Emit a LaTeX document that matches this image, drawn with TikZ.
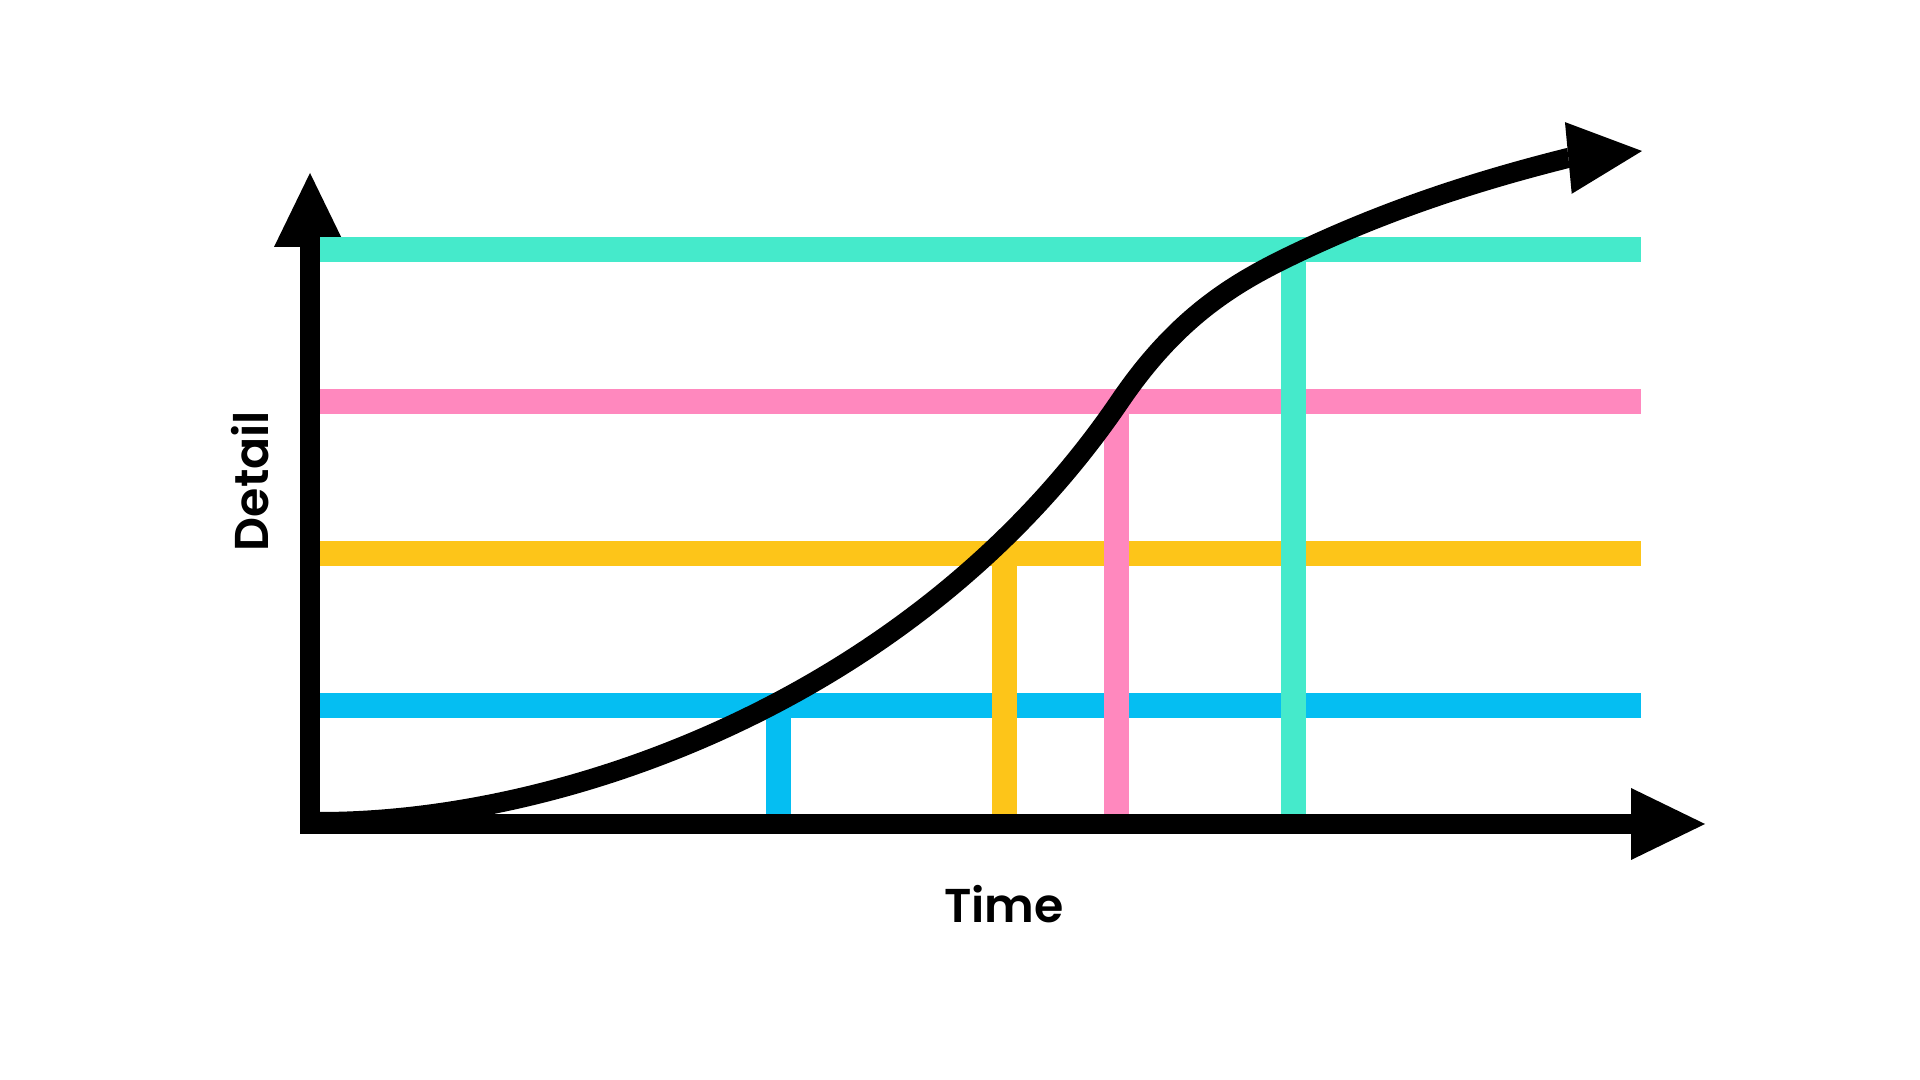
\documentclass[tikz,border=0pt]{standalone}
\usepackage{fontspec}
\setmainfont{Poppins}[UprightFont=* SemiBold]
\usetikzlibrary{arrows.meta}
\definecolor{levteal}{HTML}{45EACB}
\definecolor{levpink}{HTML}{FF88BE}
\definecolor{levyellow}{HTML}{FDC519}
\definecolor{levblue}{HTML}{05BEF2}

\begin{document}
\begin{tikzpicture}[>={Triangle[length=7.4mm,width=7.2mm,line width=0pt]},
 axis/.style={line width=2mm,black},
 bar/.style={line width=2.5mm},
 curve/.style={line width=2mm,black,line join=round},
 lab/.style={font=\fontsize{13.5}{16}\selectfont}]
\useasboundingbox (0,0) rectangle (19.2,10.8);
\coordinate (ytip) at (3.10,9.07);
\coordinate (xtip) at (17.05,2.56);
\draw[axis,<->] (ytip) |- (xtip);
% levels
\draw[bar,levteal] (3.20,8.305) -- (16.41,8.305);
\draw[bar,levpink] (3.20,6.785) -- (16.41,6.785);
\draw[bar,levyellow] (3.20,5.265) -- (16.41,5.265);
\draw[bar,levblue] (3.20,3.745) -- (16.41,3.745);
% drops to the time axis
\draw[bar,levblue] (7.785,3.745) -- (7.785,2.66);
\draw[bar,levyellow] (10.045,5.265) -- (10.045,2.66);
\draw[bar,levpink] (11.165,6.785) -- (11.165,2.66);
\draw[bar,levteal] (12.935,8.305) -- (12.935,2.66);
% growth curve
\coordinate (start) at (3.20,2.58);
\coordinate (steep) at (11.20,6.79);
\coordinate (knee) at (13.03,8.30);
\coordinate (head) at (15.68,9.22);
\coordinate (tip) at (16.42,9.29);
\draw[curve,->] (start) .. controls (5.70,2.58) and (9.20,3.85) .. (steep)
  .. controls (11.81,7.687) and (12.42,8.013) .. (knee)
  .. controls (13.913,8.715) and (14.797,8.999) .. (head) -- (tip);
\node[lab,anchor=base] (time) at (10.04,1.57) {Time};
\node[lab,rotate=90,anchor=base] (detail) at (2.68,5.99) {Detail};
\end{tikzpicture}
\end{document}
